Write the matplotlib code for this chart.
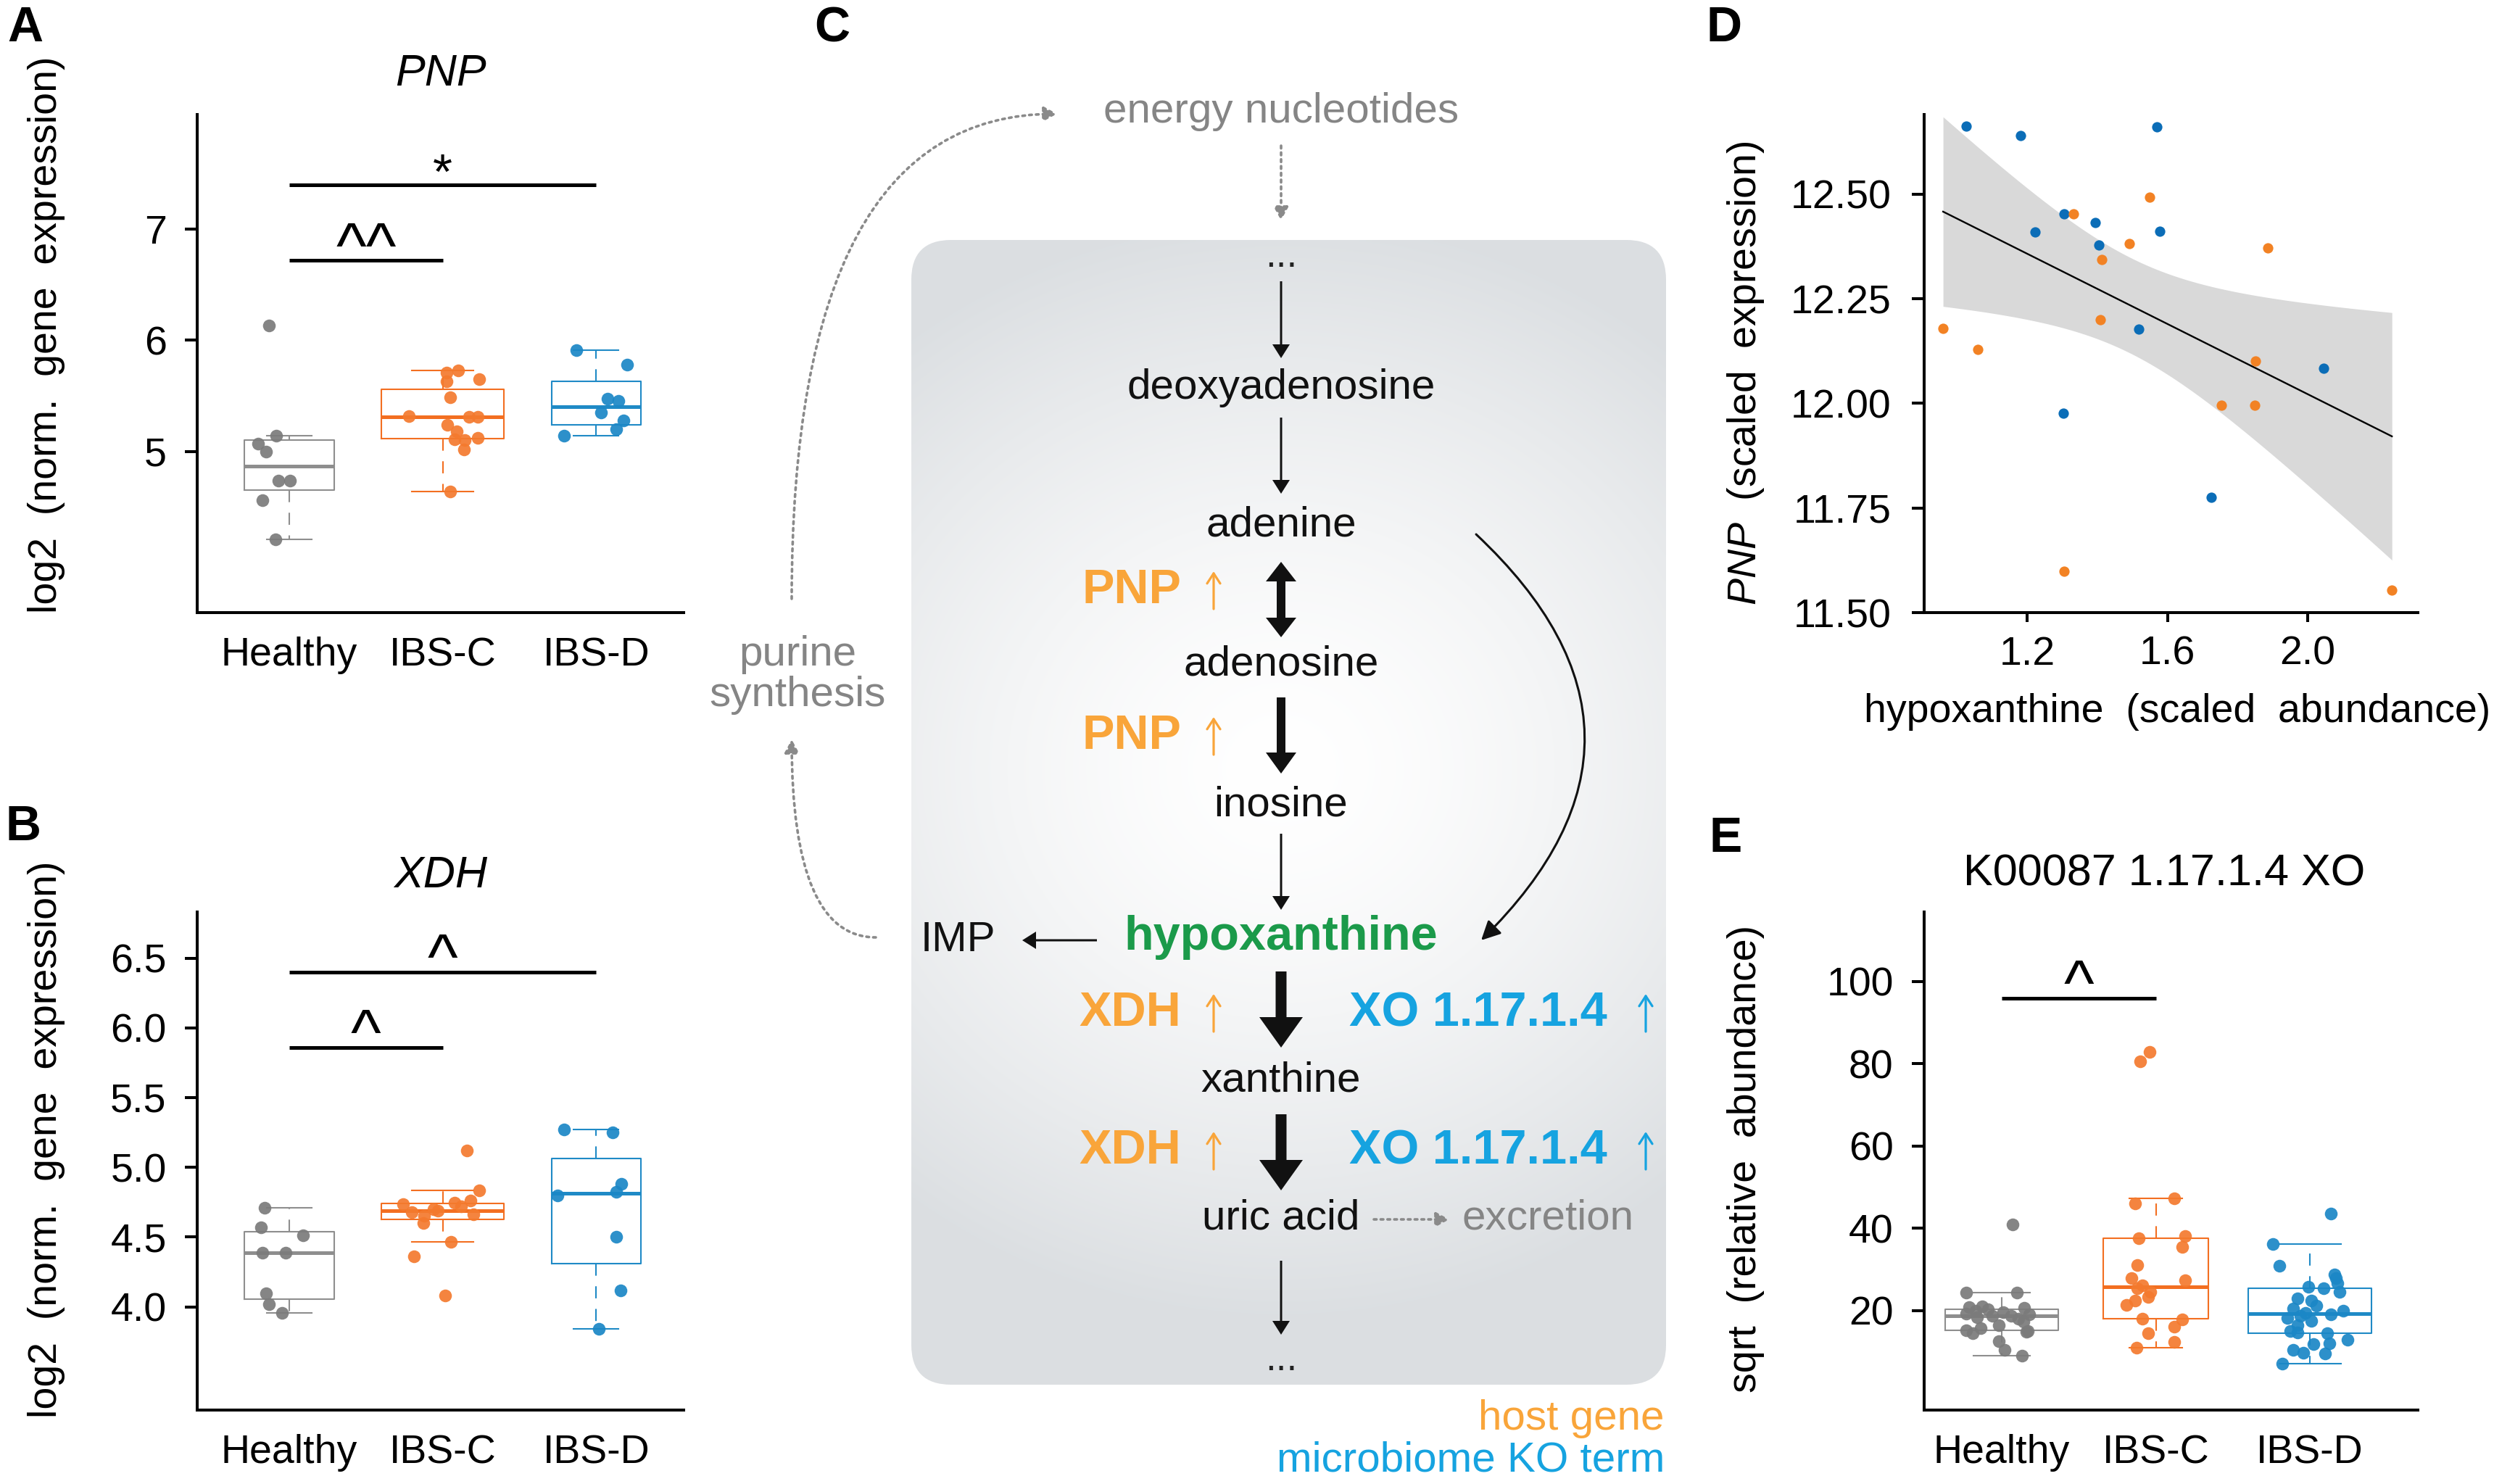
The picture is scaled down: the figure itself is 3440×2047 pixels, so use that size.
import numpy as np
import matplotlib
matplotlib.use('Agg')
import matplotlib.pyplot as plt
from matplotlib.patches import FancyArrowPatch, FancyArrow, FancyBboxPatch, ArrowStyle

plt.rcParams['font.family'] = ['Liberation Sans', 'DejaVu Sans']
plt.rcParams['mathtext.fontset'] = 'custom'
plt.rcParams['mathtext.rm'] = 'Liberation Sans'
plt.rcParams['mathtext.it'] = 'Liberation Sans:italic'

W, H = 3441, 2047

groups = ['Healthy', 'IBS-C', 'IBS-D']
box_cols = ['#8e8e8e', '#f36f21', '#1f8ac6']
pt_cols = ['#7b7b7b', '#f47a2e', '#1b87c6']

# A: PNP expression (values and jitter offsets)
pnp_healthy = [6.13, 5.14, 5.07, 5.00, 4.74, 4.74, 4.56, 4.21]
pnp_healthy_dx = [-0.13, -0.085, -0.205, -0.15, -0.07, 0.006, -0.175, -0.09]
pnp_ibsc = [5.73, 5.71, 5.65, 5.63, 5.49, 5.32, 5.31, 5.31, 5.24, 5.18, 5.12, 5.11, 5.10, 5.02, 4.64]
pnp_ibsc_dx = [0.10, 0.024, 0.24, 0.024, 0.05, -0.22, 0.17, 0.23, 0.03, 0.09, 0.23, 0.075, 0.145, 0.14, 0.05]
pnp_ibsd = [5.91, 5.78, 5.475, 5.455, 5.35, 5.28, 5.20, 5.14]
pnp_ibsd_dx = [-0.127, 0.20, 0.076, 0.145, 0.03, 0.18, 0.13, -0.21]

# B: XDH expression
xdh_healthy = [4.71, 4.57, 4.51, 4.39, 4.39, 4.095, 4.02, 3.955]
xdh_healthy_dx = [-0.16, -0.184, 0.088, -0.175, -0.024, -0.15, -0.13, -0.045]
xdh_ibsc = [5.12, 4.835, 4.76, 4.745, 4.735, 4.72, 4.70, 4.69, 4.68, 4.665, 4.655, 4.60, 4.465, 4.36, 4.08]
xdh_ibsc_dx = [0.157, 0.24, 0.18, 0.075, -0.26, 0.12, -0.06, -0.03, -0.2, 0.2, -0.12, -0.127, 0.054, -0.187, 0.015]
xdh_ibsd = [5.27, 5.25, 4.88, 4.826, 4.80, 4.50, 4.115, 3.84]
xdh_ibsd_dx = [-0.21, 0.106, 0.166, 0.13, -0.25, 0.13, 0.16, 0.015]

# D: hypoxanthine vs PNP
d_blue_x = [1.025, 1.18, 1.569, 1.305, 1.222, 1.394, 1.577, 1.405, 1.519, 2.046, 1.302, 1.724]
d_blue_y = [12.662, 12.639, 12.66, 12.452, 12.409, 12.432, 12.411, 12.379, 12.177, 12.083, 11.976, 11.776]
d_orange_x = [0.960, 1.058, 1.331, 1.549, 1.492, 1.412, 1.885, 1.409, 1.851, 1.754, 1.848, 1.305, 2.240]
d_orange_y = [12.179, 12.128, 12.452, 12.493, 12.381, 12.343, 12.372, 12.199, 12.101, 11.995, 11.995, 11.598, 11.554]

# E: K00087 XO abundance
xo_healthy = [40.9, 24.3, 24.3, 21.0, 20.8, 20.6, 20.3, 20.0, 19.6, 19.3, 19.0, 18.8, 18.7,
              18.4, 18.0, 17.3, 16.5, 15.8, 15.2, 15.0, 14.8, 14.5, 12.5, 10.5, 9.1]
xo_healthy_dx = [0.07, -0.23, 0.10, -0.125, -0.21, 0.146, -0.09, -0.17, 0.01, -0.23, 0.18, -0.06, 0.06,
                 -0.16, 0.11, 0.14, -0.02, -0.136, -0.23, 0.17, 0.16, -0.19, -0.02, 0.02, 0.13]
xo_ibsc = [82.9, 80.6, 47.3, 46.1, 38.1, 37.6, 35.5, 31.0, 27.9, 27.3, 26.2, 25.4, 24.5, 23.3, 22.5,
           21.4, 18.0, 17.8, 16.1, 14.5, 12.3, 10.9]
xo_ibsc_dx = [-0.04, -0.10, 0.12, -0.135, 0.19, -0.11, 0.17, -0.12, -0.16, 0.19, -0.085, -0.12, -0.035,
              -0.05, -0.135, -0.19, -0.085, 0.17, 0.12, -0.05, 0.12, -0.125]
xo_ibsd = [43.5, 36.1, 30.8, 28.8, 27.9, 26.7, 25.8, 25.5, 24.6, 23.0, 22.4, 21.2, 20.5, 20.0, 19.5,
           19.0, 18.7, 18.2, 17.5, 16.5, 15.0, 14.6, 14.4, 12.9, 12.0, 11.8, 10.5, 9.7, 9.5, 7.0]
xo_ibsd_dx = [0.136, -0.24, -0.2, 0.16, 0.17, 0.176, -0.01, 0.09, 0.19, -0.08, 0.007, 0.04, -0.11, 0.217,
              -0.027, 0.136, -0.06, -0.146, 0.007, -0.08, -0.13, -0.08, 0.11, 0.244, 0.125, 0.024, -0.11,
              -0.044, 0.10, -0.18]


def tukey_stats(vals):
    v = np.sort(np.asarray(vals, float))
    n = len(v)
    n4 = np.floor((n + 3) / 2) / 2
    d = np.array([1, n4, (n + 1) / 2, n + 1 - n4, n]) - 1
    five = 0.5 * (v[np.floor(d).astype(int)] + v[np.ceil(d).astype(int)])
    iqr = five[3] - five[1]
    lo = v[v >= five[1] - 1.5 * iqr].min()
    hi = v[v <= five[3] + 1.5 * iqr].max()
    return dict(med=five[2], q1=five[1], q3=five[3], whislo=lo, whishi=hi, fliers=[])


def rect(l, t, r, b):
    return [l / W, 1 - b / H, (r - l) / W, (b - t) / H]


def style_axes(ax):
    for s in ['top', 'right']:
        ax.spines[s].set_visible(False)
    for s in ['left', 'bottom']:
        ax.spines[s].set_linewidth(2.9)
    ax.tick_params(axis='y', length=12.5, width=2.9, pad=18, labelsize=40)


def box_panel(ax, series, offsets, ms):
    n = [len(s) for s in series]
    widths = 0.8 * np.sqrt(n) / np.sqrt(max(n))
    for i, (vals, dx) in enumerate(zip(series, offsets)):
        c = box_cols[i]
        ax.bxp([tukey_stats(vals)], positions=[i + 1], widths=[widths[i]], showfliers=False,
               boxprops=dict(color=c, lw=1.5), whiskerprops=dict(color=c, lw=1.5, ls=(0, (8, 7))),
               capprops=dict(color=c, lw=1.5), medianprops=dict(color=c, lw=3.6))
        ax.scatter(np.full(len(vals), i + 1.0) + np.array(dx), vals, s=ms, color=pt_cols[i],
                   lw=0, alpha=0.92, zorder=3)
    style_axes(ax)
    ax.set_xticks([1, 2, 3])
    ax.set_xticklabels(groups)
    ax.tick_params(axis='x', length=0, pad=24, labelsize=40)


def sig(ax, x0, x1, y, label, size, off=-4):
    ax.plot([x0, x1], [y, y], color='black', lw=3.6, solid_capstyle='butt')
    ax.annotate(label, xy=((x0 + x1) / 2, y), xytext=(0, off), textcoords='offset points',
                ha='center', va='baseline', fontsize=size)


fig = plt.figure(figsize=(W / 100, H / 100), dpi=100)

# overlay for the diagram and free text, in pixel coordinates
ov = fig.add_axes([0, 0, 1, 1])
ov.axis('off')

# ---- A ----
axA = fig.add_axes(rect(272, 158, 943, 845))
box_panel(axA, [pnp_healthy, pnp_ibsc, pnp_ibsd], [pnp_healthy_dx, pnp_ibsc_dx, pnp_ibsd_dx], 160)
axA.set_xlim(0.40, 3.57)
axA.set_ylim(3.55, 8.03)
axA.set_yticks([5, 6, 7])
sig(axA, 1, 3, 7.40, '*', 50)
sig(axA, 1, 2, 6.72, '^^', 64, -7)

# ---- B ----
axB = fig.add_axes(rect(272, 1258, 943, 1945))
box_panel(axB, [xdh_healthy, xdh_ibsc, xdh_ibsd], [xdh_healthy_dx, xdh_ibsc_dx, xdh_ibsd_dx], 160)
axB.set_xlim(0.40, 3.57)
axB.set_ylim(3.26, 6.83)
axB.set_yticks([4.0, 4.5, 5.0, 5.5, 6.0, 6.5])
axB.set_yticklabels(['4.0', '4.5', '5.0', '5.5', '6.0', '6.5'])
sig(axB, 1, 3, 6.40, '^', 64, -7)
sig(axB, 1, 2, 5.86, '^', 64, -7)

# ---- D ----
axD = fig.add_axes(rect(2654, 158, 3335, 845))
X = np.array(d_blue_x + d_orange_x)
Y = np.array(d_blue_y + d_orange_y)
b1, b0 = np.polyfit(X, Y, 1)
xs = np.linspace(X.min(), X.max(), 200)
yhat = b0 + b1 * xs
res = Y - (b0 + b1 * X)
s_err = np.sqrt(np.sum(res ** 2) / (len(X) - 2))
se = s_err * np.sqrt(1 / len(X) + (xs - X.mean()) ** 2 / np.sum((X - X.mean()) ** 2))
t_crit = 2.069  # t(0.975, df=23)
axD.fill_between(xs, yhat - t_crit * se, yhat + t_crit * se, color='#d9d9d9', lw=0, zorder=1)
axD.plot(xs, yhat, color='black', lw=1.7, zorder=2)
axD.scatter(d_blue_x, d_blue_y, s=105, color='#0b6db7', lw=0, zorder=3)
axD.scatter(d_orange_x, d_orange_y, s=105, color='#f28224', lw=0, zorder=3)
style_axes(axD)
axD.tick_params(axis='y', pad=20)
axD.tick_params(axis='x', length=9.5, width=2.9, pad=13.5, labelsize=40)
axD.set_xlim(0.906, 2.314)
axD.set_ylim(11.5, 12.69)
axD.set_xticks([1.2, 1.6, 2.0])
axD.set_xticklabels(['1.2', '1.6', '2.0'])
axD.set_yticks([11.5, 11.75, 12.0, 12.25, 12.5])
axD.set_yticklabels(['11.50', '11.75', '12.00', '12.25', '12.50'])

# ---- E ----
axE = fig.add_axes(rect(2654, 1258, 3335, 1945))
box_panel(axE, [xo_healthy, xo_ibsc, xo_ibsd], [xo_healthy_dx, xo_ibsc_dx, xo_ibsd_dx], 160)
axE.set_xlim(0.497, 3.70)
axE.set_ylim(-4.2, 116.9)
axE.set_yticks([20, 40, 60, 80, 100])
sig(axE, 1, 2, 96.0, '^', 64, -7)

# ---- titles, axis labels, panel letters ----
txt = dict(ha='center', va='center')
ov.text(608, 103, 'PNP', fontsize=44, style='italic', **txt)
ov.text(608, 1209, 'XDH', fontsize=44, style='italic', **txt)
ov.text(2985, 1206, 'K00087 1.17.1.4 XO', fontsize=44, **txt)
ov.text(64, 462, 'log2  (norm.  gene  expression)', fontsize=40, rotation=90, **txt)
ov.text(64, 1572, 'log2  (norm.  gene  expression)', fontsize=40, rotation=90, **txt)
ov.text(2408, 515, r'$\it{PNP}$  (scaled  expression)', fontsize=40, rotation=90, **txt)
ov.text(2408, 1598, 'sqrt  (relative  abundance)', fontsize=40, rotation=90, **txt)
ov.text(3003, 982, 'hypoxanthine  (scaled  abundance)', fontsize=40, **txt)
for lab, x, y in [('A', 35, 39), ('B', 32, 1141), ('C', 1148, 39), ('D', 2378, 39), ('E', 2380, 1157)]:
    ov.text(x, y, lab, fontsize=49, fontweight='bold', **txt)

# ---- C: pathway diagram ----
gray_txt = '#858585'
orange = '#f9a53a'
blue = '#16a3e0'
green = '#1b9a4a'
cx = 1767

box = FancyBboxPatch((1257, 331), 1041, 1579, boxstyle='round,pad=0,rounding_size=55',
                     facecolor='none', edgecolor='none', transform=ov.transData)
ov.add_patch(box)
gx = np.linspace(1257, 2298, 260)
gy = np.linspace(331, 1910, 400)
GX, GY = np.meshgrid(gx, gy)
r = np.sqrt(((GX - cx) / 830) ** 2 + ((GY - 1060) / 760) ** 2)
tt = np.clip(r, 0, 1) ** 1.5
edge = np.array([0.86, 0.873, 0.885])
img = 1 - tt[..., None] * (1 - edge)
im = ov.imshow(img, extent=(1257, 2298, 1910, 331), origin='upper', interpolation='bilinear')
im.set_clip_path(box)
ov.set_xlim(0, W)
ov.set_ylim(H, 0)
ov.set_aspect('auto')


def straight(x0, y0, x1, y1, width, hw, hl):
    ov.add_patch(FancyArrow(x0, y0, x1 - x0, y1 - y0, width=width, head_width=hw, head_length=hl,
                            length_includes_head=True, color='#111111', lw=0))


def curved(p0, p1, conn, color, ls, lw, hl, hw, style='-|>'):
    ov.add_patch(FancyArrowPatch(p0, p1, connectionstyle=conn,
                                 arrowstyle=ArrowStyle(style, head_length=hl, head_width=hw),
                                 mutation_scale=1, color=color, lw=lw, linestyle=ls,
                                 shrinkA=0, shrinkB=0))


def up_mark(x, y, color):
    curved((x, y + 25), (x, y - 27), 'arc3', color, '-', 2.3, 10, 6.5, style='->')


# thin arrows
for y0, y1 in [(388, 494), (576, 681), (1150, 1255), (1739, 1841)]:
    straight(cx, y0, cx, y1, 3, 24, 19)
straight(1513, 1297, 1410, 1297, 3, 24, 19)
# PNP arrows
straight(cx, 827, cx, 775, 12, 42, 27)
straight(cx, 827, cx, 879, 12, 42, 27)
straight(cx, 962, cx, 1067, 12, 42, 29)
# XDH / XO arrows
straight(cx, 1340, cx, 1445, 15, 60, 42)
straight(cx, 1537, cx, 1642, 15, 60, 42)

# dotted grey arrows
dots = (0, (1, 1.6))
curved((cx, 201), (cx, 304), 'arc3', '#8a8a8a', dots, 2.6, 11, 6)
curved((1895, 1682), (1999, 1682), 'arc3', '#8a8a8a', dots, 2.6, 11, 6)
curved((1092, 826), (1458, 157), 'angle3,angleA=90,angleB=0', '#8a8a8a', dots, 2.6, 11, 6)
curved((1208, 1293), (1092, 1020), 'angle3,angleA=0,angleB=90', '#8a8a8a', dots, 2.6, 11, 6)
# curved adenine -> hypoxanthine
curved((2036, 737), (2043, 1297), 'arc3,rad=-0.52', '#111111', '-', 2.2, 16, 8)

ctext = dict(ha='center', va='center', fontsize=42)
ov.text(cx, 154, 'energy nucleotides', color=gray_txt, **ctext)
ov.text(cx, 368, '...', ha='center', va='baseline', fontsize=38, color='#222222')
for word, y in [('deoxyadenosine', 535), ('adenine', 725), ('adenosine', 916), ('inosine', 1110),
                ('xanthine', 1490), ('uric acid', 1680)]:
    ov.text(cx, y, word, color='#111111', **ctext)
ov.text(cx, 1890, '...', ha='center', va='baseline', fontsize=38, color='#222222')
ov.text(cx, 1293, 'hypoxanthine', color=green, fontweight='bold', ha='center', va='center', fontsize=48)
ov.text(1321, 1297, 'IMP', color='#111111', **ctext)
ov.text(2135, 1680, 'excretion', color=gray_txt, **ctext)
ov.text(1100, 931, 'purine\nsynthesis', color=gray_txt, linespacing=1.05, **ctext)

for y in [815, 1016]:
    ov.text(1629, y, 'PNP', color=orange, fontweight='bold', ha='right', va='center', fontsize=48)
    up_mark(1674, y, orange)
for y in [1398, 1588]:
    ov.text(1629, y, 'XDH', color=orange, fontweight='bold', ha='right', va='center', fontsize=48)
    up_mark(1674, y, orange)
    ov.text(1861, y, 'XO 1.17.1.4', color=blue, fontweight='bold', ha='left', va='center', fontsize=48)
    up_mark(2270, y, blue)

ov.text(2296, 1957, 'host gene', color=orange, ha='right', va='center', fontsize=42)
ov.text(2296, 2015, 'microbiome KO term', color=blue, ha='right', va='center', fontsize=42)

fig.savefig('out.png', dpi=100)
